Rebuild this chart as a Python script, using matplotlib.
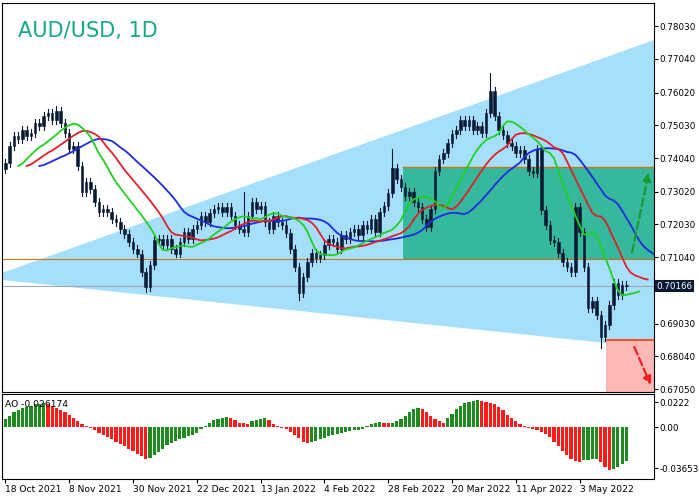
import matplotlib
matplotlib.use("Agg")
import matplotlib.pyplot as plt
import numpy as np
import pandas as pd
from matplotlib.patches import Rectangle, Polygon

closes = [0.7390,0.7440,0.7470,0.7460,0.7490,0.7470,0.7480,0.7510,0.7500,0.7530,0.7540,0.7520,0.7545,0.7510,0.7480,
          0.7430,0.7440,0.7380,0.7300,0.7330,0.7310,0.7270,0.7240,0.7250,0.7240,0.7220,0.7210,0.7190,0.7175,0.7150,
          0.7130,0.7115,0.7060,0.7013,0.7080,0.7155,0.7160,0.7140,0.7160,0.7130,0.7115,0.7150,0.7180,0.7160,0.7190,
          0.7200,0.7230,0.7210,0.7237,0.7250,0.7257,0.7240,0.7255,0.7230,0.7200,0.7190,0.7180,0.7230,0.7270,0.7250,
          0.7260,0.7210,0.7190,0.7230,0.7210,0.7200,0.7177,0.7130,0.7074,0.6995,0.7045,0.7090,0.7116,0.7100,0.7110,
          0.7140,0.7160,0.7150,0.7130,0.7170,0.7160,0.7180,0.7190,0.7170,0.7200,0.7190,0.7220,0.7180,0.7240,0.7260,
          0.7298,0.7375,0.7340,0.7316,0.7290,0.7300,0.7270,0.7256,0.7220,0.7196,0.7250,0.7365,0.7400,0.7420,0.7450,
          0.7476,0.7490,0.7520,0.7500,0.7520,0.7490,0.7500,0.7480,0.7540,0.7607,0.7530,0.7490,0.7475,0.7450,0.7440,
          0.7420,0.7428,0.7400,0.7365,0.7360,0.7430,0.7248,0.7200,0.7156,0.7150,0.7116,0.7090,0.7074,0.7060,0.7257,
          0.7180,0.7074,0.6950,0.6970,0.6930,0.6862,0.6900,0.6960,0.7025,0.6990,0.7020,0.7016]
high_extremes = {114: 0.7662, 91: 0.7430, 56: 0.7300, 12: 0.7560}
low_extremes = {140: 0.6830, 69: 0.6975, 33: 0.7000}

ao = [.007,.010,.013,.015,.017,.018,.019,.020,.0205,.021,.020,.0185,.017,.015,.013,
      .011,.008,.005,.003,.001,-.001,-.003,-.005,-.007,-.009,-.011,-.013,-.015,-.017,-.019,-.021,-.024,-.026,-.028,
      -.027,-.025,-.022,-.019,-.016,-.014,-.012,-.011,-.010,-.008,-.007,-.005,-.002,
      .001,.004,.006,.007,.008,.009,
      .008,.006,.004,.0035,.003,
      .0055,.0065,.0075,.0080,
      .006,.003,.001,-.001,-.002,
      -.004,-.007,-.010,-.013,-.014,
      -.0135,-.012,-.011,-.0095,-.008,-.007,-.006,-.005,-.004,-.0035,-.003,-.0025,-.002,
      .001,.003,.004,.0045,
      .004,.0038,
      .004,.005,.007,.010,.013,.016,.017,
      .016,.013,.010,.007,.005,.004,
      .008,.012,.016,.019,.021,.022,.023,.024,
      .023,.022,.021,.020,.018,.015,.011,.008,.005,.003,.001,-.001,-.002,
      -.003,-.004,-.006,-.009,-.013,-.017,-.021,-.025,-.028,-.030,-.031,
      -.0295,-.029,-.0285,-.028,
      -.031,-.035,-.038,
      -.037,-.035,-.033,-.030]

date_labels = ["18 Oct 2021","8 Nov 2021","30 Nov 2021","22 Dec 2021","13 Jan 2022",
               "4 Feb 2022","28 Feb 2022","20 Mar 2022","11 Apr 2022","3 May 2022"]
price_ticks = [0.78030,0.77040,0.76020,0.75030,0.74040,0.73020,0.72030,0.71040,0.69030,0.68040,0.67050]
ao_ticks = [0.0222, 0.0, -0.036533]
ao_ticklabels = ["0.0222", "0.00", "-0.036533"]
last_price = 0.70166

n = len(closes)
x = np.arange(n)
c = np.array(closes)
o = np.concatenate([[0.7370], c[:-1]])
h = np.maximum(o, c) + 0.0012
l = np.minimum(o, c) - 0.0012
for k, v in high_extremes.items(): h[k] = v
for k, v in low_extremes.items(): l[k] = v
med = pd.Series((h + l) / 2)

fig = plt.figure(figsize=(6.99, 4.98), dpi=100)
ax = fig.add_axes([2/699, 1-392/498, 652/699, 389/498])
ax2 = fig.add_axes([2/699, 1-479/498, 652/699, 85/498])
XMAX = 152.5
ymin, ymax = 0.6696, 0.7873
ax.set_xlim(-0.8, XMAX); ax.set_ylim(ymin, ymax)

ax.add_patch(Polygon([[-0.8, 0.7056], [XMAX, 0.7761], [XMAX, 0.6829], [-0.8, 0.7035]],
                     closed=True, fc="#a6dffc", ec="none", zorder=0))
ax.add_patch(Rectangle((93.5, 0.7098), XMAX-93.5, 0.7376-0.7098, fc="#35b89c", ec="none", zorder=1))
ax.plot([93.5, XMAX], [0.7376, 0.7376], color="#c8761a", lw=1, zorder=2)
ax.axhline(0.7098, color="#c8761a", lw=0.8, zorder=2)
ax.axhline(last_price, color="#a0a8b8", lw=0.8, zorder=2)
ax.add_patch(Rectangle((141.3, ymin), XMAX-141.3, 0.6853-ymin, fc="#ffb8b8", ec="none", zorder=1))
ax.plot([141.3, XMAX], [0.6853, 0.6853], color="#ff4000", lw=1.2, zorder=2)

for i in range(n):
    ax.plot([x[i], x[i]], [l[i], h[i]], color="#0b1a33", lw=0.8, zorder=3)
    bot = min(o[i], c[i]); ht = max(abs(c[i]-o[i]), 0.0002)
    ax.add_patch(Rectangle((x[i]-0.3, bot), 0.6, ht, fc="#0b1a33", ec="#0b1a33", lw=0.4, zorder=3))

for p, sh, col in [(13, 8, "#1d2be0"), (8, 5, "#e0202a"), (5, 3, "#22d022")]:
    v = med.ewm(alpha=1/p, adjust=False).mean().values
    ax.plot(x + sh, v, color=col, lw=1.3, zorder=4)

ax.annotate("", xy=(151.4, 0.7368), xytext=(147.2, 0.7110),
            arrowprops=dict(arrowstyle="-|>", color="#1a9a30", lw=1.6, ls="--", mutation_scale=12), zorder=5)
ax.annotate("", xy=(152.0, 0.6710), xytext=(147.6, 0.6840),
            arrowprops=dict(arrowstyle="-|>", color="#ee2020", lw=1.6, ls="--", mutation_scale=12), zorder=5)

ax.text(0.025, 0.955, "AUD/USD, 1D", transform=ax.transAxes, color="#15a98a", fontsize=15,
        va="top", ha="left")

ax.yaxis.tick_right()
ax.set_yticks(price_ticks)
ax.set_yticklabels([f"{t:.5f}" for t in price_ticks], fontsize=6.3)
ax.tick_params(axis="y", length=3, pad=1)
ax.set_xticks([])
ax.text(XMAX + 0.6, last_price, "0.70166", transform=ax.transData, fontsize=6.3, color="white",
        va="center", ha="left", bbox=dict(fc="#0b1a33", ec="none", pad=1.2), clip_on=False)

aov = np.array(ao)
cols = ["#1f8a1f" if (i == 0 or aov[i] > aov[i-1]) else "#ff1a1a" for i in range(n)]
ax2.bar(x, aov, width=0.75, color=cols)
ax2.set_xlim(-0.8, XMAX); ax2.set_ylim(-0.046, 0.0293)
ax2.yaxis.tick_right()
ax2.set_yticks(ao_ticks); ax2.set_yticklabels(ao_ticklabels, fontsize=6.3)
ax2.set_xticks(np.arange(0, 150, 15)); ax2.set_xticklabels(date_labels, fontsize=6.6, ha="left")
ax2.tick_params(length=3, pad=1)
ax2.text(0.005, 0.93, "AO -0.026174", transform=ax2.transAxes, fontsize=6.6, va="top")

fig.savefig("out.png", dpi=100)
